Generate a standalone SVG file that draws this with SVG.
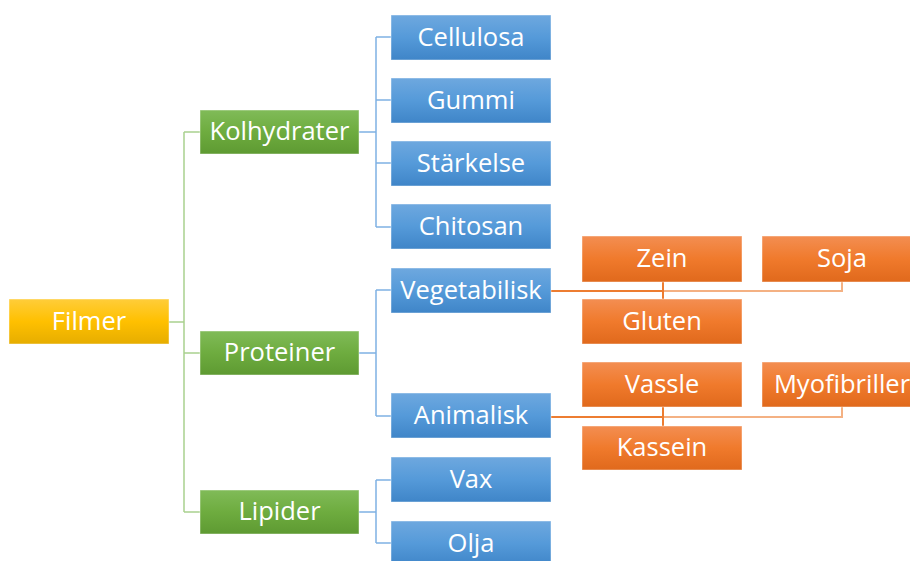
<svg xmlns="http://www.w3.org/2000/svg" width="910" height="561" viewBox="0 0 910 561">
<defs>
<linearGradient id="gy" x1="0" y1="0" x2="0" y2="1"><stop offset="0" stop-color="#ffcd3a"/><stop offset="0.5" stop-color="#ffc000"/><stop offset="1" stop-color="#e6ad00"/></linearGradient>
<linearGradient id="gg" x1="0" y1="0" x2="0" y2="1"><stop offset="0" stop-color="#80bb58"/><stop offset="0.5" stop-color="#6eac3f"/><stop offset="1" stop-color="#5e9a32"/></linearGradient>
<linearGradient id="gb" x1="0" y1="0" x2="0" y2="1"><stop offset="0" stop-color="#6ea8df"/><stop offset="0.5" stop-color="#559ad9"/><stop offset="1" stop-color="#3f85c8"/></linearGradient>
<linearGradient id="go" x1="0" y1="0" x2="0" y2="1"><stop offset="0" stop-color="#f38e52"/><stop offset="0.5" stop-color="#f07a2c"/><stop offset="1" stop-color="#e0691c"/></linearGradient>
</defs>
<style>
rect{stroke:#ffffff;stroke-opacity:0.45;stroke-width:1}
.y{fill:url(#gy)} .g{fill:url(#gg)} .b{fill:url(#gb)} .o{fill:url(#go)}
text{font-family:"Open Sans","Noto Sans","DejaVu Sans",sans-serif;font-size:25.5px;fill:#ffffff;text-anchor:middle;dominant-baseline:central}
.cg{stroke:#a9d18e;stroke-width:1.5;fill:none}
.cb{stroke:#7fb1e3;stroke-width:1.5;fill:none}
.co{stroke:#ed7d31;stroke-width:2;fill:none}
.col{stroke:#f4b183;stroke-width:2;fill:none}
</style>
<g id="connectors">
<path class="cg" d="M169 322H184M184 132V512M184 132H200M184 353H200M184 512H200"/>
<path class="cb" d="M359 132H376M376 37V227M376 37H391M376 100H391M376 163H391M376 227H391"/>
<path class="cb" d="M359 353H376M376 290V416M376 290H391M376 416H391"/>
<path class="cb" d="M359 512H376M376 480V543M376 480H391M376 543H391"/>
<path class="col" d="M663 291H842V282"/>
<path class="co" d="M551 291H663M663 282V299"/>
<path class="col" d="M663 417H842V407"/>
<path class="co" d="M551 417H663M663 407V426"/>
</g>
<g id="filmer"><rect class="y" x="9" y="299" width="160" height="45"/><text x="89" y="319.5">Filmer</text></g>
<g id="kolhydrater"><rect class="g" x="200" y="110" width="159" height="44"/><text x="279.5" y="130">Kolhydrater</text></g>
<g id="proteiner"><rect class="g" x="200" y="331" width="159" height="44"/><text x="279.5" y="351">Proteiner</text></g>
<g id="lipider"><rect class="g" x="200" y="490" width="159" height="44"/><text x="279.5" y="510">Lipider</text></g>
<g id="cellulosa"><rect class="b" x="391" y="15" width="160" height="45"/><text x="471" y="35.5">Cellulosa</text></g>
<g id="gummi"><rect class="b" x="391" y="78" width="160" height="45"/><text x="471" y="98.5">Gummi</text></g>
<g id="starkelse"><rect class="b" x="391" y="141" width="160" height="45"/><text x="471" y="161.5">Stärkelse</text></g>
<g id="chitosan"><rect class="b" x="391" y="204" width="160" height="45"/><text x="471" y="224.5">Chitosan</text></g>
<g id="vegetabilisk"><rect class="b" x="391" y="268" width="160" height="45"/><text x="471" y="288.5">Vegetabilisk</text></g>
<g id="animalisk"><rect class="b" x="391" y="393" width="160" height="45"/><text x="471" y="413.5">Animalisk</text></g>
<g id="vax"><rect class="b" x="391" y="457" width="160" height="45"/><text x="471" y="477.5">Vax</text></g>
<g id="olja"><rect class="b" x="391" y="521" width="160" height="45"/><text x="471" y="541.5">Olja</text></g>
<g id="zein"><rect class="o" x="582" y="236" width="160" height="46"/><text x="662" y="257">Zein</text></g>
<g id="soja"><rect class="o" x="762" y="236" width="160" height="46"/><text x="842" y="257">Soja</text></g>
<g id="gluten"><rect class="o" x="582" y="299" width="160" height="45"/><text x="662" y="319.5">Gluten</text></g>
<g id="vassle"><rect class="o" x="582" y="362" width="160" height="45"/><text x="662" y="382.5">Vassle</text></g>
<g id="myofibriller"><rect class="o" x="762" y="362" width="160" height="45"/><text x="842" y="382.5">Myofibriller</text></g>
<g id="kassein"><rect class="o" x="582" y="426" width="160" height="44"/><text x="662" y="446">Kassein</text></g>
</svg>
